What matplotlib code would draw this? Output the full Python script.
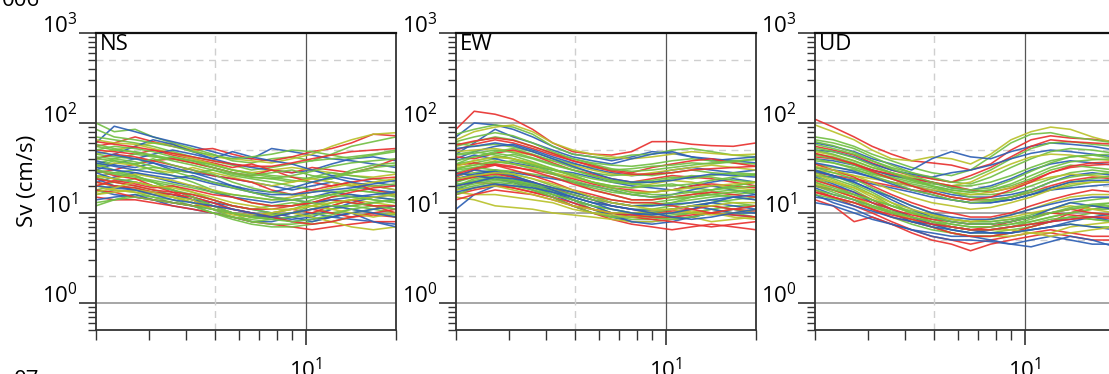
import matplotlib
matplotlib.use("Agg")
import matplotlib.pyplot as plt
from matplotlib.ticker import FixedLocator, FuncFormatter, NullFormatter

plt.rcParams['font.family'] = ['Open Sans', 'DejaVu Sans']
plt.rcParams['mathtext.fontset'] = 'custom'
plt.rcParams['mathtext.rm'] = 'Open Sans'
plt.rcParams['mathtext.it'] = 'Open Sans:italic'
plt.rcParams['mathtext.bf'] = 'Open Sans:bold'

# ---------------- data ----------------
periods = [2.0, 2.3, 2.7, 3.1, 3.6, 4.2, 4.9, 5.7, 6.6, 7.7, 9.0, 10.5, 12.2, 14.2, 16.8, 20.0]

components = ['NS', 'EW', 'UD']

ns_colors = "gbrygbrgybgrgbygrgbg" + "gbrgybgrgbgyrgbgrgybgrgb" + "gybrgbgyrg"
ns_values = [
    [100, 80, 85, 70, 60, 52, 45, 38, 36, 40, 42, 38, 45, 55, 62, 70],
    [60, 92, 80, 70, 62, 55, 48, 42, 40, 52, 48, 44, 40, 38, 35, 32],
    [55, 60, 70, 62, 55, 50, 52, 45, 40, 38, 42, 48, 52, 60, 75, 72],
    [45, 50, 55, 60, 58, 50, 42, 40, 38, 36, 40, 45, 55, 65, 75, 78],
    [70, 65, 60, 55, 48, 42, 38, 34, 30, 32, 35, 38, 40, 42, 45, 50],
    [40, 45, 55, 65, 58, 48, 40, 35, 32, 30, 28, 30, 35, 40, 42, 38],
    [50, 48, 45, 50, 44, 40, 36, 32, 35, 30, 28, 32, 30, 28, 32, 40],
    [35, 40, 45, 42, 40, 38, 35, 30, 28, 26, 25, 24, 26, 28, 30, 28],
    [65, 60, 58, 52, 46, 40, 35, 30, 28, 30, 32, 30, 28, 26, 25, 27],
    [30, 35, 40, 45, 50, 45, 40, 48, 42, 38, 35, 30, 26, 24, 22, 20],
    [55, 50, 48, 44, 40, 36, 32, 28, 25, 24, 22, 25, 28, 26, 24, 22],
    [28, 30, 35, 38, 40, 36, 32, 28, 26, 30, 25, 22, 20, 22, 24, 25],
    [45, 42, 40, 38, 42, 38, 34, 30, 27, 25, 23, 22, 24, 30, 34, 36],
    [38, 34, 32, 36, 30, 28, 26, 24, 22, 20, 18, 20, 22, 20, 18, 17],
    [32, 36, 34, 30, 28, 32, 28, 25, 22, 20, 22, 24, 22, 20, 22, 24],
    [25, 28, 30, 32, 30, 28, 30, 26, 24, 22, 20, 18, 17, 18, 20, 21],
    [40, 45, 42, 38, 34, 30, 26, 24, 22, 18, 16, 18, 20, 22, 18, 16],
    [50, 55, 52, 48, 42, 38, 32, 28, 26, 28, 30, 26, 24, 28, 32, 34],
    [22, 25, 28, 26, 24, 26, 22, 20, 18, 17, 19, 22, 25, 22, 20, 18],
    [85, 70, 65, 60, 55, 48, 44, 40, 42, 45, 50, 48, 44, 40, 44, 48],
    [20, 22, 24, 22, 18, 15, 12, 10, 9, 8.5, 9, 10, 11, 12, 11, 10],
    [18, 16, 15, 14, 12, 11, 10, 9, 8, 8, 9, 10, 9, 8.5, 8, 7.5],
    [15, 14, 14, 13, 12, 11, 10, 9, 8, 7.5, 7, 6.5, 7, 7.5, 8, 8],
    [25, 22, 20, 18, 16, 14, 12, 10, 8, 7.5, 7.5, 8, 9, 10, 11, 12],
    [22, 20, 18, 16, 15, 13, 11, 9.5, 9, 9, 10, 11, 12, 14, 13, 12],
    [28, 24, 22, 20, 18, 15, 13, 11, 10, 9, 8.5, 9, 11, 13, 15, 16],
    [12, 14, 16, 15, 13, 12, 10, 8.5, 7.5, 7, 7, 7.5, 8, 9, 10, 9],
    [30, 26, 24, 20, 17, 14, 11, 10, 9, 10, 11, 10, 12, 14, 12, 10],
    [18, 20, 19, 17, 15, 13, 11, 9, 8.5, 9, 10, 12, 14, 13, 12, 11],
    [24, 20, 18, 17, 16, 14, 13, 12, 11, 10, 9, 8, 9, 10, 11, 12],
    [16, 18, 17, 15, 14, 12, 10, 9, 8, 8.5, 9, 9.5, 10, 11, 10, 9.5],
    [20, 18, 17, 16, 15, 14, 11, 10, 9, 9.5, 10, 9, 8, 7, 6.5, 7],
    [22, 20, 19, 17, 16, 15, 13, 11, 10, 9, 10, 11, 10, 9, 10, 11],
    [35, 30, 26, 22, 18, 15, 12, 10, 9, 9.5, 10, 11, 13, 14, 15, 14],
    [14, 15, 16, 14, 13, 12, 11, 10, 9.5, 9, 8, 8.5, 9, 10, 8, 7],
    [26, 24, 22, 20, 18, 16, 14, 12, 11, 12, 13, 12, 11, 12, 13, 14],
    [18, 17, 15, 14, 13, 12, 12, 11, 10, 9, 8, 7.5, 8, 9, 9.5, 9],
    [30, 28, 26, 22, 20, 17, 14, 12, 11, 10, 11, 13, 15, 16, 14, 13],
    [16, 17, 18, 17, 15, 13, 11, 10, 9.5, 10, 11, 12, 11, 10, 9, 10],
    [20, 19, 18, 16, 14, 13, 12, 11, 10, 9, 10, 11, 12, 11, 10, 9],
    [13, 14, 15, 14, 13, 12, 11, 10, 9, 8.5, 8, 8.5, 9.5, 11, 12, 11],
    [24, 22, 20, 18, 17, 16, 14, 12, 11, 11, 12, 13, 14, 13, 12, 12],
    [40, 38, 35, 30, 26, 22, 18, 15, 13, 12, 12, 14, 16, 18, 17, 16],
    [32, 30, 28, 25, 22, 20, 17, 15, 14, 13, 14, 15, 17, 16, 15, 14],
    [33, 38, 35, 40, 34, 30, 27, 22, 19, 17, 16, 15, 16, 18, 17, 15],
    [26, 24, 27, 25, 23, 20, 18, 16, 15, 14, 15, 17, 19, 21, 20, 18],
    [48, 44, 40, 36, 32, 28, 24, 20, 17, 15, 14, 13, 14, 15, 16, 17],
    [20, 23, 21, 19, 20, 18, 16, 15, 13, 12, 12, 13, 15, 17, 19, 20],
    [58, 52, 47, 43, 38, 34, 30, 27, 25, 24, 26, 29, 33, 36, 38, 40],
    [36, 33, 30, 28, 26, 24, 21, 19, 17, 16, 16, 17, 18, 19, 21, 23],
    [42, 40, 37, 33, 29, 25, 22, 19, 17, 15, 14, 13, 12, 12, 13, 14],
    [17, 19, 22, 20, 19, 17, 15, 13, 12, 11, 11, 12, 13, 14, 15, 16],
    [62, 58, 54, 50, 46, 42, 38, 35, 33, 33, 36, 40, 44, 48, 50, 52],
    [29, 27, 25, 23, 21, 19, 17, 16, 15, 14, 14, 15, 16, 15, 14, 13],
]

ew_colors = "rbgybgrgbygrgbgyrgbg" + "gbrygbgrgybgrgbgrgybgrgb" + "gbyrgbgyrg"
ew_values = [
    [85, 135, 125, 110, 85, 60, 48, 45, 44, 48, 62, 62, 58, 56, 55, 60],
    [70, 100, 95, 85, 70, 55, 45, 42, 38, 42, 48, 46, 42, 40, 38, 36],
    [75, 85, 95, 90, 75, 55, 45, 42, 40, 44, 45, 50, 52, 48, 44, 42],
    [65, 80, 90, 95, 80, 60, 50, 45, 42, 40, 42, 45, 48, 46, 44, 45],
    [45, 60, 85, 70, 60, 50, 42, 38, 35, 40, 45, 48, 42, 38, 40, 42],
    [55, 62, 70, 65, 55, 46, 40, 36, 34, 33, 35, 38, 40, 38, 36, 35],
    [50, 58, 65, 60, 52, 44, 38, 34, 30, 28, 32, 35, 38, 40, 36, 33],
    [60, 55, 58, 54, 48, 40, 35, 32, 30, 31, 33, 34, 36, 35, 37, 40],
    [40, 48, 55, 58, 50, 42, 36, 31, 28, 26, 27, 30, 32, 30, 28, 30],
    [48, 50, 52, 48, 44, 38, 34, 30, 27, 26, 28, 30, 32, 34, 32, 30],
    [35, 42, 48, 52, 45, 38, 32, 28, 26, 27, 26, 28, 30, 28, 27, 26],
    [42, 40, 46, 50, 44, 36, 30, 27, 24, 22, 24, 26, 25, 24, 22, 20],
    [30, 36, 40, 45, 40, 34, 30, 26, 23, 22, 23, 25, 24, 26, 28, 27],
    [38, 44, 40, 36, 33, 30, 28, 25, 22, 20, 19, 18, 20, 22, 24, 22],
    [28, 32, 36, 38, 34, 30, 27, 24, 22, 21, 22, 24, 26, 25, 23, 22],
    [32, 34, 38, 35, 32, 28, 25, 22, 20, 19, 21, 23, 22, 20, 19, 18],
    [25, 30, 34, 32, 30, 27, 24, 21, 19, 18, 17, 18, 20, 21, 20, 19],
    [45, 48, 44, 40, 35, 30, 26, 22, 20, 19, 20, 21, 19, 18, 20, 22],
    [22, 26, 30, 28, 26, 24, 22, 20, 18, 16, 15, 16, 18, 20, 18, 16],
    [26, 28, 30, 29, 27, 25, 22, 19, 17, 16, 17, 18, 17, 16, 17, 18],
    [20, 24, 26, 24, 20, 17, 14, 12, 10, 9, 9, 9.5, 10, 11, 10, 9],
    [18, 22, 24, 22, 18, 15, 12, 10, 9, 8, 8, 8.5, 9, 10, 9.5, 9],
    [16, 18, 20, 19, 17, 15, 12, 10, 8.5, 7.5, 7, 6.5, 7, 7.5, 7, 6.5],
    [15, 14, 12, 11.5, 11, 10, 9.5, 9, 8.5, 8, 8, 8.5, 9, 8, 8.5, 9],
    [22, 25, 28, 26, 22, 18, 14, 11, 9, 8.5, 8.5, 9, 10, 11, 12, 12],
    [11, 16, 20, 22, 20, 16, 13, 11, 9.5, 8, 7.5, 8, 9, 10, 11, 10],
    [24, 26, 25, 22, 19, 16, 14, 12, 11, 10, 9, 8.5, 9, 10, 11, 12],
    [20, 22, 21, 19, 17, 15, 13, 11, 10, 9, 8.5, 8, 7.5, 7, 7.5, 8],
    [18, 20, 22, 21, 18, 15, 12, 10, 9, 9, 9.5, 10, 11, 12, 11, 10],
    [17, 16, 16, 15, 14, 13, 11, 10, 9.5, 9, 9.5, 10, 10.5, 10, 9, 8.5],
    [26, 30, 28, 25, 21, 17, 14, 12, 10, 9.5, 10, 11, 12, 11, 10, 10],
    [20, 23, 25, 23, 20, 17, 15, 13, 12, 11, 11, 12, 13, 14, 13, 12],
    [23, 25, 27, 25, 22, 19, 16, 14, 12, 11, 10, 10.5, 11, 12, 11, 10.5],
    [16, 19, 21, 20, 18, 16, 14, 12, 11, 10, 10, 11, 12, 13, 14, 15],
    [28, 26, 24, 22, 20, 18, 16, 14, 12, 11, 10.5, 11, 12, 13, 12, 11],
    [19, 21, 23, 22, 20, 18, 16, 14, 13, 12, 12, 13, 15, 16, 15, 14],
    [14, 16, 18, 17, 16, 14, 12, 11, 10, 9.5, 9, 9, 9.5, 10, 9.5, 9],
    [30, 32, 30, 27, 24, 20, 17, 15, 13, 12, 12.5, 13, 14, 15, 16, 17],
    [18, 19, 20, 18, 16, 14, 12, 11, 10, 10, 10.5, 11, 10, 9.5, 10, 11],
    [24, 27, 29, 26, 22, 18, 15, 13, 11, 10, 9.5, 10, 11, 13, 15, 14],
    [21, 22, 24, 23, 21, 19, 17, 15, 14, 13, 13, 14, 15, 17, 18, 17],
    [34, 36, 34, 30, 26, 22, 18, 16, 14, 13, 13, 12, 11, 10, 11, 12],
    [35, 38, 42, 40, 34, 28, 22, 18, 16, 14, 14, 15, 16, 18, 20, 22],
    [17, 19, 21, 20, 19, 17, 15, 13, 12, 11, 10, 9, 8.5, 9, 10, 11],
    [62, 70, 78, 72, 60, 48, 40, 35, 31, 29, 30, 32, 34, 36, 38, 39],
    [52, 55, 60, 56, 48, 40, 33, 28, 24, 22, 22, 23, 25, 27, 26, 25],
    [33, 38, 42, 40, 36, 31, 26, 22, 19, 17, 17, 18, 19, 20, 21, 22],
    [27, 31, 35, 33, 29, 25, 21, 18, 16, 14, 14, 15, 16, 17, 16, 15],
    [44, 46, 50, 47, 41, 35, 30, 26, 23, 21, 20, 20, 21, 23, 25, 27],
    [20, 22, 25, 24, 22, 19, 17, 15, 13, 12, 12, 12.5, 13, 14, 15, 16],
    [38, 42, 46, 43, 37, 31, 26, 22, 19, 17, 16, 16, 17, 18, 19, 20],
    [24, 26, 28, 27, 24, 21, 18, 15, 13, 12, 11, 11, 12, 12, 13, 13],
    [57, 63, 68, 64, 55, 46, 38, 33, 29, 27, 27, 28, 30, 31, 32, 33],
    [31, 34, 37, 35, 31, 27, 23, 20, 18, 16, 15, 15, 15, 16, 17, 18],
]

ud_colors = "rygbgrbgygbrggbyrgbg" + "rbgrygbgrgbygrbggrbygbgr" + "gbyrggbyrg"
ud_values = [
    [110, 90, 70, 55, 45, 38, 36, 34, 30, 35, 50, 65, 72, 68, 66, 62],
    [95, 80, 65, 50, 40, 38, 42, 40, 35, 45, 65, 80, 90, 85, 70, 60],
    [70, 65, 55, 45, 38, 32, 28, 26, 30, 42, 60, 75, 78, 70, 65, 60],
    [60, 55, 48, 40, 35, 30, 40, 48, 42, 40, 48, 55, 60, 58, 55, 50],
    [65, 60, 52, 42, 34, 28, 24, 22, 24, 30, 40, 52, 60, 62, 58, 55],
    [55, 50, 44, 36, 30, 26, 24, 22, 26, 32, 42, 55, 65, 62, 60, 58],
    [50, 48, 42, 35, 30, 27, 25, 28, 30, 34, 40, 46, 50, 48, 45, 42],
    [58, 52, 45, 38, 32, 28, 25, 22, 21, 25, 32, 40, 48, 52, 50, 46],
    [48, 44, 38, 32, 28, 25, 22, 20, 22, 28, 35, 42, 45, 44, 40, 38],
    [45, 42, 36, 30, 26, 23, 21, 20, 20, 22, 26, 32, 38, 42, 44, 40],
    [40, 38, 34, 30, 26, 24, 22, 19, 18, 20, 24, 30, 35, 38, 36, 34],
    [42, 40, 35, 30, 27, 24, 22, 20, 18, 17, 19, 23, 28, 32, 34, 35],
    [38, 36, 32, 28, 25, 22, 20, 18, 17, 18, 20, 24, 30, 34, 32, 30],
    [35, 32, 30, 27, 24, 21, 19, 17, 16, 16, 17, 20, 24, 28, 30, 28],
    [32, 30, 28, 25, 22, 20, 18, 16, 15, 15, 16, 18, 22, 26, 28, 26],
    [30, 28, 26, 24, 22, 20, 18, 17, 16, 17, 19, 22, 25, 27, 26, 25],
    [28, 26, 24, 22, 20, 18, 17, 15, 14, 14, 15, 17, 20, 23, 25, 24],
    [50, 45, 38, 32, 28, 24, 20, 17, 15, 14, 14, 16, 18, 20, 22, 24],
    [26, 25, 23, 21, 19, 17, 15, 14, 13, 13, 14, 16, 18, 19, 20, 21],
    [44, 40, 34, 28, 24, 20, 17, 15, 14, 14, 15, 17, 19, 22, 24, 26],
    [18, 15, 12, 10, 8, 6.5, 5.5, 5, 4.5, 5, 5.5, 6, 6.5, 6, 5.5, 5.5],
    [16, 13, 11, 9, 7.5, 6.5, 5.5, 5, 5, 4.8, 4.5, 5, 5.5, 5, 4.5, 4.5],
    [20, 17, 14, 11, 9, 7.5, 6.5, 6, 5.5, 5.5, 6, 6.5, 7, 7.5, 7, 7],
    [14, 12, 8, 9, 7.5, 6, 5, 4.5, 3.8, 4.5, 5, 5.5, 6, 5.5, 5, 5],
    [22, 18, 15, 12, 10, 8, 7, 6, 5.5, 5.5, 5.5, 6, 6, 7, 7.5, 8],
    [24, 20, 16, 13, 10, 8.5, 7, 6, 5.5, 5.5, 6, 7, 8, 9, 8.5, 8],
    [13, 12, 10, 8.5, 7.5, 6.5, 6, 5.5, 5.5, 5, 4.5, 4.2, 4.8, 5.5, 5, 4.2],
    [26, 22, 18, 14, 11, 9, 7.5, 6.5, 6, 6, 6.5, 7, 8, 9, 10, 9],
    [17, 15, 13, 11, 9, 8, 7, 6, 5.5, 5.5, 6, 7, 8, 10, 12, 11],
    [28, 24, 20, 16, 12, 10, 8, 7, 6.5, 6.5, 7, 8, 9, 10, 11, 11],
    [19, 16, 14, 12, 10, 8, 7, 6.5, 6, 6, 6, 6.5, 7, 7.5, 7, 6.5],
    [21, 18, 15, 12, 10, 8.5, 7.5, 7, 6.5, 6.5, 6.5, 6, 5.5, 6, 6.5, 7],
    [30, 26, 21, 17, 13, 10, 8.5, 7.5, 7, 7, 7.5, 8.5, 10, 11, 12, 12],
    [23, 20, 17, 14, 11, 9, 8, 7, 6.5, 7, 8, 9, 10, 9.5, 9, 8.5],
    [25, 21, 17, 13, 11, 9, 7.5, 6.5, 6, 6.5, 7, 7.5, 8, 8.5, 9, 10],
    [18, 16, 14, 12, 10.5, 9, 8, 7.5, 7, 7, 7.5, 8, 9, 10, 11, 12],
    [32, 28, 24, 19, 15, 12, 10, 8.5, 8, 8, 8.5, 9.5, 11, 13, 14, 15],
    [20, 18, 15, 13, 11, 9.5, 8.5, 8, 7.5, 7.5, 8, 9, 10, 11, 10, 9.5],
    [15, 14, 12, 10.5, 9, 8, 7.5, 7, 6.5, 6, 6, 6.5, 7, 8, 9, 8],
    [27, 23, 19, 15, 12, 10, 9, 8.5, 8, 8.5, 9, 10, 11, 12, 11, 10],
    [22, 19, 16, 14, 12, 10.5, 9.5, 8.5, 8, 8, 8.5, 9, 10, 11, 12, 13],
    [30, 26, 22, 18, 14, 11, 9, 8, 7.5, 7.5, 8, 9, 11, 13, 12, 11],
    [16, 14.5, 13, 11.5, 10, 9, 8, 7, 6.5, 6.5, 7, 7.5, 8.5, 9, 8.5, 8],
    [35, 30, 25, 20, 16, 13, 11, 10, 9, 9, 10, 12, 14, 16, 18, 17],
    [62, 56, 47, 38, 31, 26, 22, 19, 18, 19, 23, 29, 36, 42, 44, 45],
    [36, 33, 29, 25, 21, 18, 16, 14, 13, 13, 14, 16, 19, 22, 23, 23],
    [24, 22, 19, 16, 13, 11, 9.5, 8.5, 8, 8.5, 9.5, 11, 13, 15, 16, 16],
    [46, 41, 35, 29, 24, 20, 17, 15, 14, 15, 18, 22, 28, 33, 36, 37],
    [20, 18, 16, 14, 12, 10, 9, 8, 7.5, 7.5, 8, 9, 10, 11.5, 12.5, 13],
    [53, 48, 41, 34, 28, 23, 20, 18, 17, 18, 21, 26, 32, 37, 39, 40],
    [29, 26, 22, 18, 15, 12, 10, 9, 8.5, 8.5, 9.5, 11, 12.5, 14, 15, 15],
    [33, 30, 26, 22, 18, 15, 13, 12, 11, 11.5, 13, 15, 18, 21, 22, 22],
    [17, 15, 13, 11, 9.5, 8.5, 7.5, 7, 6.5, 6.5, 7, 7.5, 8, 8.5, 9, 9],
    [40, 36, 31, 26, 22, 18, 16, 14, 13, 13.5, 15, 18, 22, 25, 27, 28],
]

panel_values = [ns_values, ew_values, ud_values]
panel_colors = [ns_colors, ew_colors, ud_colors]

palette = {'r': '#e8312f', 'b': '#2d5fb4', 'g': '#72bf44', 'y': '#b9c12b'}

y_major = [1, 10, 100, 1000]
y_dash = [2, 5, 20, 50, 200, 500]
x_dash = [5]
x_solid = [10]

# ---------------- figure ----------------
W, H = 1109, 374
fig = plt.figure(figsize=(W / 100, H / 100), dpi=100)

lefts = [96, 456, 815]
top_px, bot_px, width_px = 33, 330, 300

def sup_fmt(v, pos):
    import math
    e = int(round(math.log10(v)))
    return r'$\mathregular{10^{%d}}$' % e

for i, comp in enumerate(components):
    ax = fig.add_axes([lefts[i] / W, 1 - bot_px / H, width_px / W, (bot_px - top_px) / H])
    ax.set_xscale('log')
    ax.set_yscale('log')
    ax.set_xlim(2, 20)
    ax.set_ylim(0.5, 1000)

    # grid
    for v in y_major:
        ax.axhline(v, color='#a6a6a6', lw=1.4, zorder=1)
    for v in y_dash:
        ax.axhline(v, color='#cfcfcf', lw=1.0, ls=(0, (5, 4)), zorder=1)
    for v in x_dash:
        ax.axvline(v, color='#cfcfcf', lw=1.0, ls=(0, (5, 4)), zorder=1)
    for v in x_solid:
        ax.axvline(v, color='#555555', lw=0.9, zorder=1)

    for vals, c in zip(panel_values[i], panel_colors[i]):
        ax.plot(periods, vals, color=palette[c], lw=1.15, alpha=0.92, zorder=2)

    # ticks
    ax.yaxis.set_major_locator(FixedLocator(y_major))
    ax.yaxis.set_minor_locator(FixedLocator([m * 10.0 ** e for e in range(-1, 3) for m in range(2, 10)]))
    ax.yaxis.set_major_formatter(FuncFormatter(sup_fmt))
    ax.yaxis.set_minor_formatter(NullFormatter())
    ax.xaxis.set_major_locator(FixedLocator([10]))
    ax.xaxis.set_minor_locator(FixedLocator([2, 3, 4, 5, 6, 7, 8, 9, 20]))
    ax.xaxis.set_major_formatter(FuncFormatter(sup_fmt))
    ax.xaxis.set_minor_formatter(NullFormatter())

    ax.tick_params(axis='y', which='major', direction='out', length=12, width=1.2,
                   labelsize=16, pad=1, color='#333333')
    ax.tick_params(axis='y', which='minor', direction='out', length=6, width=1.0, color='#333333')
    ax.tick_params(axis='x', which='major', direction='out', length=11, width=1.2,
                   labelsize=16, pad=9, color='#333333')
    ax.tick_params(axis='x', which='minor', direction='out', length=7, width=1.0, color='#333333')
    for t in ax.get_yticklabels():
        t.set_verticalalignment('baseline')

    for s in ['left', 'bottom', 'right']:
        ax.spines[s].set_color('#333333')
        ax.spines[s].set_linewidth(1.3)
    ax.spines['top'].set_color('#111111')
    ax.spines['top'].set_linewidth(1.6)

    ax.text(0.013, 0.995, comp, transform=ax.transAxes, ha='left', va='top', fontsize=16)

fig.text(27 / W, 1 - 181 / H, 'Sv (cm/s)', rotation=90, ha='center', va='center', fontsize=16)
fig.text(40 / W, 1 - 6 / H, '006', ha='right', va='baseline', fontsize=16)
fig.text(14 / W, 1 - 386 / H, '07', ha='left', va='baseline', fontsize=16)

fig.savefig('out.png', dpi=100)
